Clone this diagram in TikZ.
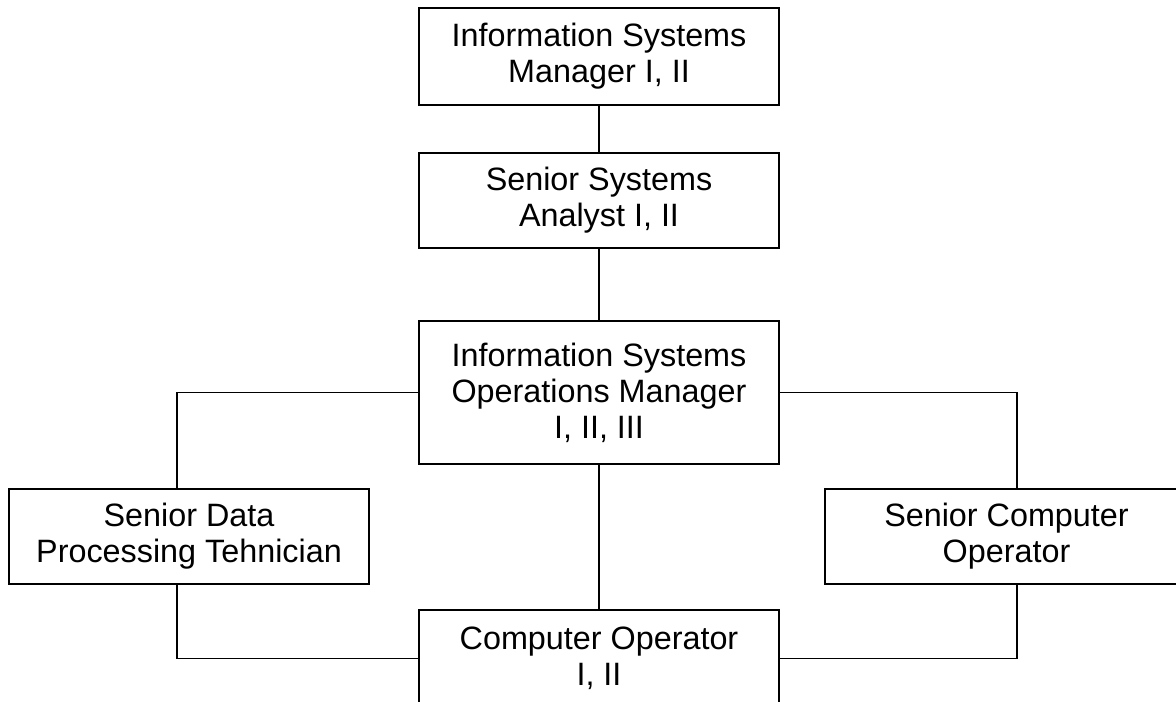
\documentclass[tikz,border=0pt]{standalone}
\usepackage{fontspec}
\setmainfont{Liberation Sans}

\begin{document}
\begin{tikzpicture}[x=0.025cm, y=-0.025cm, line width=0.9pt,
  post/.style={draw, align=center, inner sep=0pt, minimum width=9cm, font=\fontsize{23}{25.6}\selectfont}]
\clip (0,0) rectangle (1176,702);

\node (ism) at (599,56.5) [post, minimum height=2.425cm]{Information Systems\\Manager I, II};
\node (ssa) at (599,200.5) [post, minimum height=2.375cm]{Senior Systems\\Analyst I, II};
\node (isom) at (599,392.5) [post, minimum height=3.575cm]{Information Systems\\Operations Manager\\I, II, III};

\node (sdpt) at (189,536.5) [post, minimum height=2.375cm]{Senior Data\\Processing Tehnician};
\node (sco) at (1006.5,536.5) [post, minimum width=9.075cm, minimum height=2.375cm]{Senior Computer\\Operator};

\node (co) at (599,658.5) [post, minimum height=2.425cm]{Computer Operator\\I, II};

\coordinate (lft) at (177,0);
\coordinate (rgt) at (1017,0);

\draw (ism) -- (ssa);
\draw (ssa) -- (isom);
\draw (isom) -- (co);

\draw (isom.west) -| (lft |- sdpt.north);
\draw (isom.east) -| (rgt |- sco.north);
\draw (lft |- sdpt.south) |- (co.west);
\draw (rgt |- sco.south) |- (co.east);

\end{tikzpicture}
\end{document}
